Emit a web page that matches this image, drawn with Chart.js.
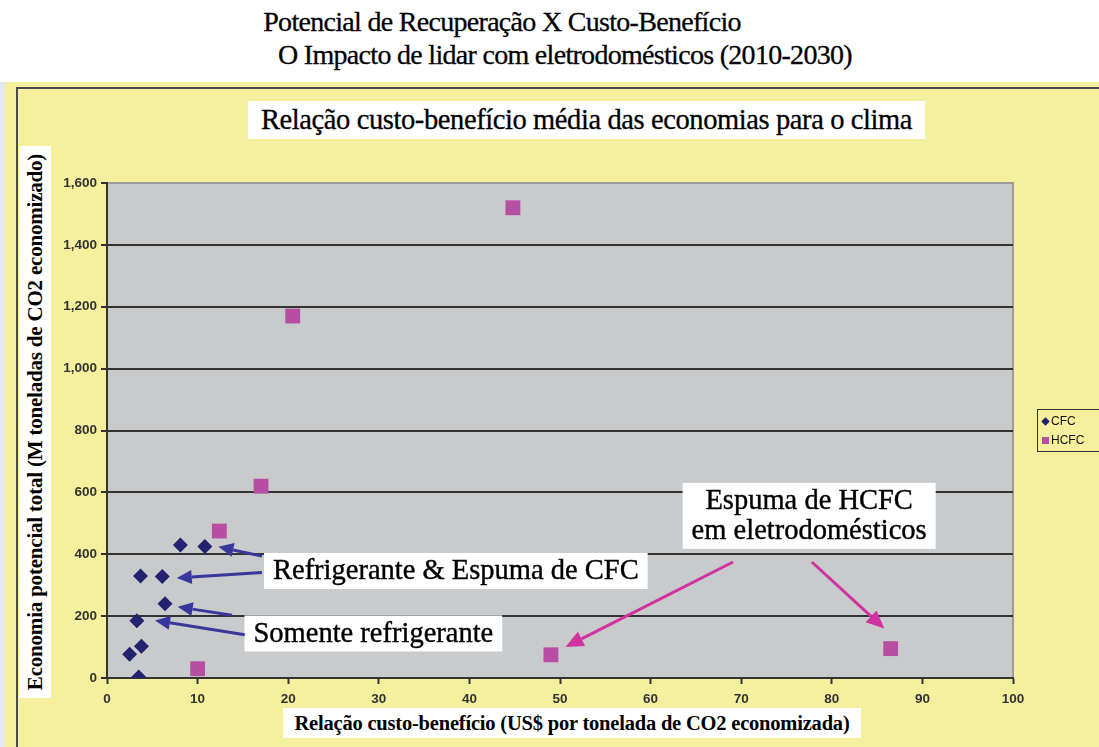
<!DOCTYPE html>
<html lang="pt">
<head>
    <meta charset="UTF-8">
    <title>Potencial de Recuperação X Custo-Benefício</title>
    <script src="https://cdn.jsdelivr.net/npm/chart.js"></script>
    <style>
        body {
            margin: 0;
            width: 1099px;
            height: 747px;
            background: #ffffff;
            overflow: hidden;
            position: relative;
            font-family: 'Liberation Serif', 'DejaVu Serif', serif;
        }
        .head {
            position: absolute;
            left: 0;
            text-align: center;
            font-size: 28px;
            line-height: 30px;
            color: #000;
            letter-spacing: -0.7px;
            white-space: nowrap;
            -webkit-text-stroke: 0.3px #000;
        }
        .strip {
            position: absolute;
            left: 0; top: 82px; width: 5px; bottom: 0;
            background: #e4e8ea;
        }
        .panel {
            position: absolute;
            left: 5px; top: 82px; right: 0; bottom: 0;
            background: #f4f09d;
        }
        .frame {
            position: absolute;
            left: 16px; top: 87px; right: -5px; bottom: -5px;
            border-left: 2px solid #4a4a4a;
            border-top: 2px solid #4a4a4a;
        }
        canvas {
            position: absolute;
            left: 0; top: 0;
        }
        .box {
            position: absolute;
            background: #ffffff;
            color: #000;
            white-space: nowrap;
            text-align: center;
        }
        #chartTitle {
            left: 248px; top: 101px; width: 677px; height: 38px;
            line-height: 38px;
            font-size: 28.5px;
            letter-spacing: -0.4px;
            -webkit-text-stroke: 0.3px #000;
        }
        #yTitle {
            left: 19px; top: 146px; width: 32px; height: 552px;
        }
        #yTitle span {
            position: absolute;
            left: 50%; top: 50%;
            transform: translate(-50%, -50%) rotate(-90deg);
            font-weight: bold;
            font-size: 21px;
            letter-spacing: -0.2px;
        }
        #xTitle {
            left: 283px; top: 708px; width: 578px; height: 30px;
            line-height: 30px;
            font-weight: bold;
            font-size: 20.5px;
            letter-spacing: -0.2px;
        }
        #legend {
            position: absolute;
            left: 1037px; top: 409px; width: 70px; height: 41px;
            border: 1px solid #333;
            font-family: Arial, 'Liberation Sans', sans-serif;
            font-size: 12px;
            color: #111;
        }
        #legend div {
            position: absolute;
            left: 4px;
            height: 14px;
            line-height: 14px;
        }
        #legend i {
            display: inline-block;
            width: 7px; height: 7px;
            margin-right: 2px;
            vertical-align: 0;
        }
    </style>
</head>
<body>

<div class="head" style="top: 7px; width: 1004px;">Potencial de Recuperação X Custo-Benefício</div>
<div class="head" style="top: 40px; width: 1130px;">O Impacto de lidar com eletrodomésticos (2010-2030)</div>

<div class="strip"></div>
<div class="panel"></div>
<div class="frame"></div>

<canvas id="chart" width="1099" height="747"></canvas>

<div class="box" id="chartTitle">Relação custo-benefício média das economias para o clima</div>
<div class="box" id="yTitle"><span>Economia potencial total (M toneladas de CO2 economizado)</span></div>
<div class="box" id="xTitle">Relação custo-benefício (US$ por tonelada de CO2 economizada)</div>

<div id="legend">
    <div style="top: 4px;"><i style="background:#22226e; transform: rotate(45deg) scale(0.85);"></i>CFC</div>
    <div style="top: 23px;"><i style="background:#b64fa3;"></i>HCFC</div>
</div>

<script>
    // CFC options: cost (US$/t CO2) and total savings (Mt CO2)
    var cfcCost = [8.1, 10.8, 3.7, 6.1, 6.4, 3.3, 3.8, 2.5, 3.5];
    var cfcSavings = [430, 425, 330, 328, 240, 185, 103, 77, 3];

    // HCFC options
    var hcfcCost = [10.0, 12.4, 17.0, 20.5, 44.8, 49.0, 86.5];
    var hcfcSavings = [30, 475, 620, 1170, 1520, 75, 95];

    var xTicks = [0, 10, 20, 30, 40, 50, 60, 70, 80, 90, 100];
    var yTicks = [0, 200, 400, 600, 800, 1000, 1200, 1400, 1600];

    // callouts, anchored in axis units
    var notes = [
        { lines: ['Refrigerante & Espuma de CFC'], x: 38.5, y: 346 },
        { lines: ['Somente refrigerante'], x: 29.4, y: 144 },
        { lines: ['Espuma de HCFC', 'em eletrodomésticos'], x: 77.5, y: 524 }
    ];
    // arrows: [fromX, fromY, toX, toY]
    var cfcArrows = [
        [17.1, 394, 12.3, 424],
        [17.1, 341, 7.7, 323],
        [13.8, 203, 7.8, 230],
        [15.2, 140, 5.3, 186]
    ];
    var hcfcArrows = [
        [69.1, 375, 50.6, 100],
        [77.8, 375, 85.8, 160]
    ];

    function toPoints(xs, ys) {
        var out = [];
        for (var i = 0; i < xs.length; i++) {
            out.push({ x: xs[i], y: ys[i] });
        }
        return out;
    }

    var plotBackdrop = {
        id: 'plotBackdrop',
        beforeDraw: function(chart) {
            var ctx = chart.ctx, a = chart.chartArea;
            ctx.save();
            ctx.fillStyle = '#c9cacc';
            ctx.fillRect(a.left, a.top, a.right - a.left, a.bottom - a.top);
            ctx.strokeStyle = '#9c9c9c';
            ctx.lineWidth = 2;
            ctx.beginPath();
            ctx.moveTo(a.left, a.top);
            ctx.lineTo(a.right, a.top);
            ctx.lineTo(a.right, a.bottom);
            ctx.stroke();
            ctx.restore();
        }
    };

    function drawArrow(ctx, x1, y1, x2, y2, color, headLen, headW) {
        var ang = Math.atan2(y2 - y1, x2 - x1);
        var bx = x2 - Math.cos(ang) * headLen;
        var by = y2 - Math.sin(ang) * headLen;
        ctx.strokeStyle = color;
        ctx.fillStyle = color;
        ctx.lineWidth = 3;
        ctx.beginPath();
        ctx.moveTo(x1, y1);
        ctx.lineTo(bx, by);
        ctx.stroke();
        ctx.beginPath();
        ctx.moveTo(x2, y2);
        ctx.lineTo(bx + Math.sin(ang) * headW / 2, by - Math.cos(ang) * headW / 2);
        ctx.lineTo(bx - Math.sin(ang) * headW / 2, by + Math.cos(ang) * headW / 2);
        ctx.closePath();
        ctx.fill();
    }

    var callouts = {
        id: 'callouts',
        afterDatasetsDraw: function(chart) {
            var ctx = chart.ctx;
            var xs = chart.scales.x, ys = chart.scales.y;
            ctx.save();
            ctx.font = '28.5px "Liberation Serif", serif';
            ctx.textAlign = 'center';
            ctx.textBaseline = 'middle';
            notes.forEach(function(n) {
                var cx = xs.getPixelForValue(n.x);
                var cy = ys.getPixelForValue(n.y);
                var w = 0;
                n.lines.forEach(function(t) { w = Math.max(w, ctx.measureText(t).width); });
                var lh = 30;
                var h = n.lines.length * lh + 6;
                ctx.fillStyle = '#ffffff';
                ctx.fillRect(cx - w / 2 - 9, cy - h / 2, w + 18, h);
                ctx.fillStyle = '#000000';
                ctx.strokeStyle = '#000000';
                ctx.lineWidth = 0.4;
                n.lines.forEach(function(t, i) {
                    var ty = cy - (n.lines.length - 1) * lh / 2 + i * lh + 1;
                    ctx.fillText(t, cx, ty);
                    ctx.strokeText(t, cx, ty);
                });
            });
            cfcArrows.forEach(function(a) {
                drawArrow(ctx, xs.getPixelForValue(a[0]), ys.getPixelForValue(a[1]),
                    xs.getPixelForValue(a[2]), ys.getPixelForValue(a[3]), '#37379c', 15, 14);
            });
            hcfcArrows.forEach(function(a) {
                drawArrow(ctx, xs.getPixelForValue(a[0]), ys.getPixelForValue(a[1]),
                    xs.getPixelForValue(a[2]), ys.getPixelForValue(a[3]), '#d0339f', 18, 16);
            });
            ctx.restore();
        }
    };

    var tickFont = { family: 'Arial, "Liberation Sans", sans-serif', size: 13.5, weight: 'bold' };

    new Chart(document.getElementById('chart'), {
        type: 'scatter',
        data: {
            datasets: [{
                label: 'CFC',
                data: toPoints(cfcCost, cfcSavings),
                pointStyle: 'rectRot',
                pointRadius: 7.5,
                backgroundColor: '#22226e',
                borderColor: '#22226e',
                borderWidth: 0
            }, {
                label: 'HCFC',
                data: toPoints(hcfcCost, hcfcSavings),
                pointStyle: 'rect',
                pointRadius: 10.5,
                backgroundColor: '#b64fa3',
                borderColor: '#b64fa3',
                borderWidth: 0
            }]
        },
        options: {
            responsive: false,
            animation: false,
            layout: { padding: { left: 47, right: 86, top: 183, bottom: 43 } },
            plugins: {
                legend: { display: false },
                tooltip: { enabled: false }
            },
            scales: {
                x: {
                    type: 'linear',
                    min: 0,
                    max: 100,
                    afterBuildTicks: function(scale) {
                        scale.ticks = xTicks.map(function(v) { return { value: v }; });
                    },
                    afterFit: function(scale) { scale.height = 26; },
                    ticks: { color: '#333', font: tickFont, padding: 7, maxRotation: 0 },
                    grid: { drawOnChartArea: false, drawTicks: true, tickLength: 6, tickColor: '#333', tickWidth: 2 },
                    border: { color: '#333', width: 2 }
                },
                y: {
                    type: 'linear',
                    min: 0,
                    max: 1600,
                    afterBuildTicks: function(scale) {
                        scale.ticks = yTicks.map(function(v) { return { value: v }; });
                    },
                    afterFit: function(scale) { scale.width = 60; },
                    ticks: {
                        color: '#333',
                        font: tickFont,
                        padding: 4,
                        callback: function(v) { return v.toLocaleString('en-US'); }
                    },
                    grid: {
                        color: function(c) { return c.tick && c.tick.value === 1600 ? 'rgba(0,0,0,0)' : '#333'; },
                        lineWidth: 2,
                        tickLength: 6,
                        tickColor: '#333',
                        tickWidth: 2
                    },
                    border: { color: '#333', width: 2 }
                }
            }
        },
        plugins: [plotBackdrop, callouts]
    });
</script>

</body>
</html>
